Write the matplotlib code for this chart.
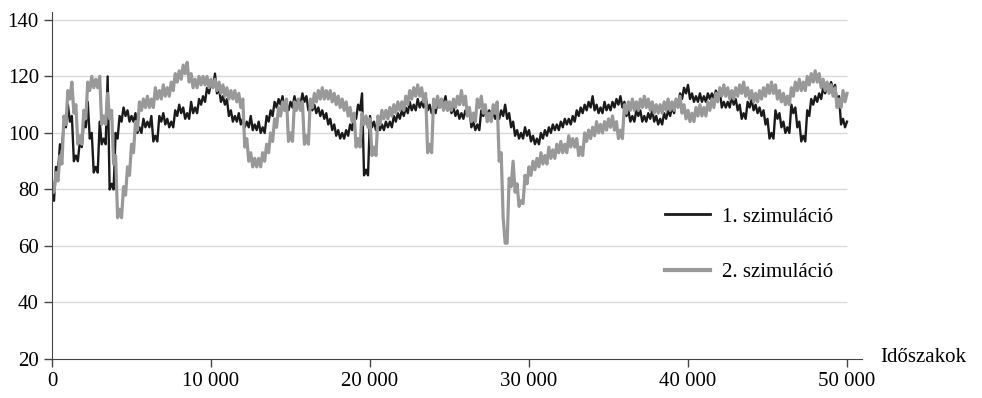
import matplotlib.pyplot as plt
import numpy as np

plt.rcParams['font.family'] = ['Liberation Serif', 'DejaVu Serif']

# időszakok (lépésköz 250)
periods = np.arange(0, 50001, 250)

# 1. szimuláció (fekete) - sáv felső széle 250-es lépésekben
sim1 = [78, 88, 96, 104, 110, 106, 92, 97, 104, 111,
        100, 88, 104, 98, 120, 82, 100, 106, 109, 108,
        106, 107, 102, 105, 104, 106, 99, 106, 107, 105,
        104, 108, 110, 109, 107, 111, 109, 112, 113, 116,
        118, 121, 116, 113, 112, 108, 106, 107, 105, 104,
        106, 103, 104, 102, 106, 108, 111, 112, 113, 110,
        111, 113, 112, 114, 113, 110, 110, 109, 108, 107,
        105, 103, 101, 100, 101, 103, 107, 110, 114, 87,
        106, 104, 103, 103, 104, 104, 106, 107, 108, 109,
        111, 110, 112, 111, 113, 110, 109, 111, 112, 113,
        110, 109, 108, 107, 108, 109, 104, 103, 108, 109,
        108, 107, 107, 108, 110, 107, 104, 101, 100, 102,
        101, 99, 98, 100, 101, 102, 103, 103, 104, 105,
        105, 106, 108, 109, 110, 111, 113, 110, 109, 111,
        110, 111, 112, 113, 111, 108, 106, 108, 108, 106,
        107, 108, 106, 105, 107, 108, 109, 112, 114, 116,
        117, 114, 113, 114, 113, 114, 114, 115, 115, 111,
        111, 113, 112, 110, 107, 111, 112, 110, 109, 108,
        105, 100, 108, 107, 104, 102, 110, 109, 104, 99,
        108, 112, 113, 114, 116, 117, 118, 117, 113, 105,
        104]
# sáv alsó széle a köztes pontokban
sim1_lo = [76, 86, 94, 102, 104, 90, 90, 95, 102, 98,
           86, 86, 96, 96, 80, 80, 98, 104, 106, 104,
           104, 100, 100, 102, 102, 97, 97, 104, 103, 102,
           102, 106, 107, 105, 105, 107, 107, 110, 111, 114,
           116, 114, 111, 110, 106, 104, 104, 103, 102, 102,
           101, 101, 100, 100, 104, 106, 109, 110, 108, 108,
           109, 110, 110, 111, 108, 108, 107, 106, 105, 103,
           101, 99, 98, 98, 99, 101, 105, 108, 85, 85,
           102, 101, 101, 101, 102, 102, 104, 105, 106, 107,
           108, 108, 109, 109, 108, 107, 107, 109, 110, 108,
           107, 106, 105, 105, 106, 102, 101, 101, 106, 106,
           105, 105, 105, 106, 105, 102, 99, 98, 98, 99,
           97, 96, 96, 98, 99, 100, 101, 101, 102, 103,
           103, 104, 106, 107, 108, 109, 108, 107, 107, 108,
           108, 109, 110, 109, 106, 104, 104, 106, 104, 104,
           105, 104, 103, 103, 105, 106, 107, 110, 112, 114,
           112, 111, 111, 111, 111, 112, 112, 113, 109, 109,
           109, 110, 108, 105, 105, 109, 108, 107, 106, 103,
           98, 98, 105, 102, 100, 100, 107, 102, 97, 97,
           106, 110, 111, 112, 114, 115, 115, 111, 103, 102]

# 2. szimuláció (szürke)
sim2 = [82, 86, 92, 106, 115, 118, 110, 99, 108, 118,
        120, 119, 120, 106, 114, 108, 92, 73, 81, 88,
        96, 104, 111, 112, 113, 112, 116, 115, 117, 116,
        118, 121, 122, 124, 125, 121, 119, 120, 120, 120,
        119, 119, 118, 117, 116, 115, 115, 114, 112, 98,
        93, 91, 91, 93, 96, 100, 105, 109, 111, 112,
        100, 111, 112, 111, 99, 112, 114, 115, 116, 115,
        115, 114, 113, 112, 111, 109, 107, 98, 107, 106,
        105, 95, 106, 108, 108, 109, 110, 111, 111, 113,
        115, 116, 117, 116, 114, 96, 112, 113, 112, 111,
        111, 112, 113, 115, 113, 109, 107, 112, 113, 110,
        107, 110, 111, 93, 61, 84, 90, 82, 76, 85,
        88, 90, 91, 93, 92, 95, 94, 96, 97, 96,
        99, 98, 98, 95, 100, 101, 102, 104, 103, 104,
        105, 106, 104, 101, 110, 111, 112, 111, 112, 113,
        112, 111, 110, 110, 111, 112, 111, 112, 113, 110,
        108, 107, 109, 110, 109, 111, 112, 114, 116, 117,
        116, 115, 116, 117, 118, 116, 115, 114, 115, 116,
        117, 118, 117, 115, 114, 113, 116, 118, 119, 118,
        120, 121, 122, 121, 119, 118, 117, 116, 112, 115,
        114]
sim2_lo = [79, 83, 89, 103, 112, 107, 96, 96, 105, 115,
           116, 116, 103, 103, 105, 89, 70, 70, 78, 85,
           93, 101, 108, 109, 109, 109, 112, 112, 113, 113,
           115, 118, 119, 121, 118, 116, 116, 117, 117, 116,
           116, 115, 114, 113, 112, 112, 111, 109, 95, 90,
           88, 88, 88, 90, 93, 97, 102, 106, 108, 97,
           97, 108, 108, 96, 96, 109, 111, 112, 112, 112,
           111, 110, 109, 108, 106, 104, 95, 95, 103, 102,
           92, 92, 103, 105, 105, 106, 107, 108, 108, 110,
           112, 113, 113, 111, 93, 93, 109, 109, 108, 108,
           108, 109, 110, 110, 106, 104, 104, 109, 107, 104,
           104, 107, 90, 70, 61, 81, 79, 74, 75, 82,
           85, 87, 88, 89, 89, 91, 91, 93, 93, 93,
           95, 95, 92, 92, 97, 98, 99, 100, 100, 101,
           102, 101, 98, 98, 107, 108, 108, 108, 109, 109,
           108, 107, 107, 107, 108, 108, 108, 109, 107, 105,
           104, 104, 106, 106, 106, 108, 109, 111, 113, 113,
           112, 112, 113, 114, 113, 112, 111, 111, 112, 113,
           114, 114, 112, 111, 110, 110, 113, 115, 115, 115,
           117, 118, 118, 116, 115, 114, 113, 109, 109, 111]

yticks = [20, 40, 60, 80, 100, 120, 140]
xticks = [0, 10000, 20000, 30000, 40000, 50000]
xlabels = ['0', '10 000', '20 000', '30 000', '40 000', '50 000']


def interleave(hi, lo):
    xs = np.empty(len(hi) + len(lo))
    ys = np.empty(len(hi) + len(lo))
    xs[0::2] = periods
    xs[1::2] = periods[:-1] + 125
    ys[0::2] = hi
    ys[1::2] = lo
    return xs, ys


fig = plt.figure(figsize=(9.82, 3.98), dpi=100)
ax = fig.add_axes([52 / 982, 39 / 398, 810 / 982, 347 / 398])

ax.hlines(yticks[1:], 0, 50000, color='#d9d9d9', lw=1.0, zorder=0)
x1, y1 = interleave(sim1, sim1_lo)
x2, y2 = interleave(sim2, sim2_lo)
ax.plot(x1, y1, color='#1a1a1a', lw=1.7, label='1. szimuláció')
ax.plot(x2, y2, color='#999999', lw=2.3, label='2. szimuláció')

ax.set_xlim(0, 50943)
ax.set_ylim(20, 142.8)
ax.set_xticks(xticks)
ax.set_xticklabels(xlabels)
ax.set_yticks(yticks)
ax.tick_params(labelsize=15, length=6, width=1, color='#444444', direction='out')
ax.spines['top'].set_visible(False)
ax.spines['right'].set_visible(False)
for s in ['left', 'bottom']:
    ax.spines[s].set_color('#444444')

fig.text(880 / 982, 1 - 357 / 398, 'Időszakok', fontsize=15, va='center', ha='left')

leg = ax.legend(loc='upper left', bbox_to_anchor=(665 / 982, 1 - 207 / 398), bbox_transform=fig.transFigure,
                frameon=False, fontsize=15, handlelength=2.16, handletextpad=0.58, labelspacing=1.74,
                borderpad=0, borderaxespad=0)
leg.get_lines()[0].set_linewidth(2.0)
leg.get_lines()[1].set_linewidth(3.0)

fig.savefig('out.png', dpi=100)
